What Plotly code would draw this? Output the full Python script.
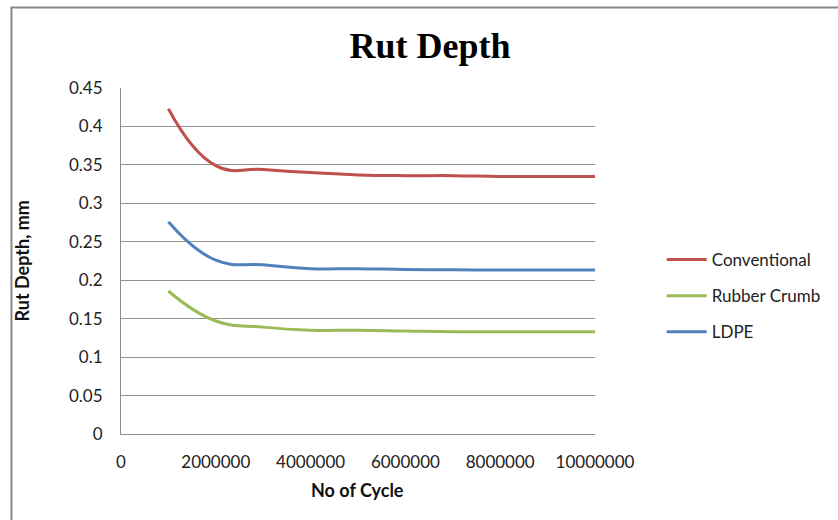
import plotly.graph_objects as go

cycles = [1000000, 2000000, 3000000, 4000000, 5000000, 6000000, 7000000, 8000000, 9000000, 10000000]
conventional = [0.423, 0.349, 0.344, 0.340, 0.337, 0.336, 0.336, 0.335, 0.335, 0.335]
rubber_crumb = [0.186, 0.147, 0.139, 0.135, 0.135, 0.134, 0.133, 0.133, 0.133, 0.133]
ldpe = [0.276, 0.226, 0.220, 0.215, 0.215, 0.214, 0.2135, 0.2133, 0.2133, 0.2133]

series = [
    ("Conventional", conventional, "#C0504D"),
    ("Rubber Crumb", rubber_crumb, "#9BBB59"),
    ("LDPE", ldpe, "#4F81BD"),
]

fig = go.Figure()
for name, vals, color in series:
    fig.add_trace(go.Scatter(
        x=cycles, y=vals, name=name, mode="lines", legendgroup=name,
        line=dict(color=color, width=3, shape="spline", smoothing=1.3),
    ))

W, H = 838, 520
L, R, T, B = 121, 241, 88, 86
pw, ph = W - L - R, H - T - B

def px(x):
    return (x - L) / pw

def py(y):
    return (T + ph - y) / ph

fig.update_layout(
    width=W, height=H,
    margin=dict(l=L, r=R, t=T, b=B),
    paper_bgcolor="white", plot_bgcolor="white",
    title=dict(text="<b>Rut Depth</b>", x=430 / W, xanchor="center",
               y=1 - 45 / H, yanchor="middle",
               font=dict(family="Liberation Serif", size=36, color="black")),
    font=dict(family="Lato", size=17, color="#222"),
    legend=dict(x=px(664), xanchor="left", y=py(296), yanchor="middle",
                font=dict(family="Lato", size=17, color="#222"),
                tracegroupgap=11, itemwidth=40, bgcolor="rgba(0,0,0,0)"),
    showlegend=True,
)
fig.update_xaxes(
    range=[0, 10000000], dtick=2000000, tick0=0, tickformat="d",
    showgrid=False, zeroline=False, showline=True, linecolor="#8c8c8c", linewidth=1,
    ticks="", ticklabelstandoff=13, tickfont=dict(family="Lato", size=17, color="#222"),
)
fig.update_yaxes(
    range=[0, 0.45], dtick=0.05, tick0=0,
    showgrid=True, gridcolor="#939393", gridwidth=1, zeroline=False,
    showline=True, linecolor="#8c8c8c", linewidth=1,
    ticks="", ticklabelstandoff=14, tickfont=dict(family="Lato", size=17, color="#222"),
)

fig.add_annotation(text="<b>No of Cycle</b>", xref="paper", yref="paper",
                   x=px(358), y=py(490), xanchor="center", yanchor="middle",
                   showarrow=False, font=dict(family="Lato", size=18, color="#111"))
fig.add_annotation(text="<b>Rut Depth, mm</b>", xref="paper", yref="paper",
                   x=px(22), y=py(261), xanchor="center", yanchor="middle",
                   textangle=-90, showarrow=False,
                   font=dict(family="Lato", size=18, color="#111"))

# outer chart border (left and top visible)
fig.add_shape(type="rect", xref="paper", yref="paper",
              x0=px(11), x1=px(W + 20), y0=py(H + 20), y1=py(7.5),
              line=dict(color="#888888", width=2), fillcolor="rgba(0,0,0,0)", layer="below")

fig.write_html("out.html")
